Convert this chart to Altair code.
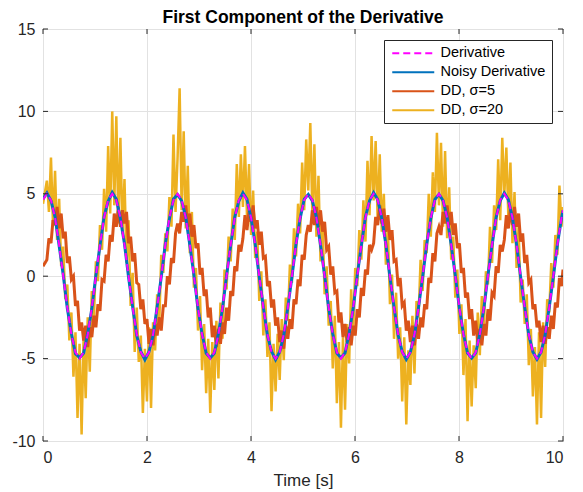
import altair as alt
import pandas as pd

# ---------------- series / style lists ----------------
SERIES = ["Derivative", "Noisy Derivative", "DD, σ=5", "DD, σ=20"]
COLORS = ["#FF00FF", "#0072BD", "#D95319", "#EDB120"]
DASHES = [[7, 4], [1, 0], [1, 0], [1, 0]]

X_TICKS = [0, 2, 4, 6, 8, 10]
Y_TICKS = [-10, -5, 0, 5, 10, 15]

# sampling grid (seconds): t=0, then T_FIRST + i*dt, then t=10
T_FIRST = 0.0748
T_END = 10.0
DT_SMOOTH = 0.07854
DT_NOISY = 0.03927

# ---------------- values ----------------
derivative = [4.65,
    5.00, 4.62, 3.54, 1.91, 0.00, -1.91, -3.54, -4.62, -5.00, -4.62, -3.54, -1.91, 0.00, 1.91, 3.54, 4.62,
    5.00, 4.62, 3.54, 1.91, 0.00, -1.91, -3.54, -4.62, -5.00, -4.62, -3.54, -1.91, 0.00, 1.91, 3.54, 4.62,
    5.00, 4.62, 3.54, 1.91, 0.00, -1.91, -3.54, -4.62, -5.00, -4.62, -3.54, -1.91, 0.00, 1.91, 3.54, 4.62,
    5.00, 4.62, 3.54, 1.91, 0.00, -1.91, -3.54, -4.62, -5.00, -4.62, -3.54, -1.91, 0.00, 1.91, 3.54, 4.62,
    5.00, 4.62, 3.54, 1.91, 0.00, -1.91, -3.54, -4.62, -5.00, -4.62, -3.54, -1.91, 0.00, 1.91, 3.54, 4.62,
    5.00, 4.62, 3.54, 1.91, 0.00, -1.91, -3.54, -4.62, -5.00, -4.62, -3.54, -1.91, 0.00, 1.91, 3.54, 4.62,
    5.00, 4.62, 3.54, 1.91, 0.00, -1.91, -3.54, -4.62, -5.00, -4.62, -3.54, -1.91, 0.00, 1.91, 3.54, 4.62,
    5.00, 4.62, 3.54, 1.91, 0.00, -1.91, -3.54, -4.62, -5.00, -4.62, -3.54, -1.91, 0.00, 1.91, 3.54,
    4.01]

noisy_derivative = [4.70,
    5.05, 4.58, 3.60, 1.85, 0.08, -1.95, -3.48, -4.70, -4.94, -4.66, -3.47, -1.98, 0.05, 1.84, 3.61, 4.55,
    5.08, 4.67, 3.49, 1.96, -0.06, -1.86, -3.60, -4.57, -5.07, -4.58, -3.61, -1.85, -0.07, 1.97, 3.48, 4.68,
    4.95, 4.57, 3.59, 1.88, 0.07, -1.97, -3.50, -4.68, -4.96, -4.67, -3.48, -1.96, 0.06, 1.86, 3.59, 4.56,
    5.06, 4.66, 3.50, 1.95, -0.05, -1.87, -3.59, -4.56, -5.06, -4.59, -3.60, -1.87, -0.05, 1.95, 3.49, 4.67,
    4.96, 4.58, 3.58, 1.87, 0.06, -1.96, -3.49, -4.67, -4.95, -4.66, -3.49, -1.95, 0.07, 1.87, 3.60, 4.57,
    5.07, 4.65, 3.51, 1.94, -0.07, -1.88, -3.58, -4.58, -5.05, -4.60, -3.59, -1.88, -0.06, 1.94, 3.50, 4.66,
    4.97, 4.59, 3.57, 1.89, 0.05, -1.94, -3.51, -4.66, -4.97, -4.65, -3.50, -1.94, 0.06, 1.88, 3.58, 4.58,
    5.05, 4.64, 3.52, 1.93, -0.06, -1.89, -3.57, -4.59, -5.04, -4.61, -3.58, -1.89, -0.05, 1.93, 3.51,
    3.98]

dd_sigma5 = [0.6,
    1.0, 2.3, 2.0, 3.4, 3.1, 4.2, 2.9, 3.8, 2.3, 2.7, 0.8, 1.2, -0.2, 0.0, -1.8, -1.5,
    -3.3, -2.8, -3.9, -3.0, -4.3, -3.1, -3.7, -2.4, -3.1, -1.7, -2.1, -0.2, -0.3, 1.3, 0.9, 2.5,
    2.1, 3.8, 3.0, 4.2, 3.0, 4.0, 3.2, 3.9, 2.0, 2.4, 0.9, 1.4, -0.4, -0.5, -2.0, -1.4,
    -2.9, -2.6, -4.1, -3.2, -4.2, -2.9, -3.6, -2.5, -3.3, -1.8, -1.8, 0.0, -0.5, 1.1, 0.8, 2.6,
    3.2, 2.6, 3.9, 3.3, 4.3, 3.0, 3.8, 2.4, 3.1, 1.7, 2.0, 0.1, 0.5, -1.2, -0.8, -2.5,
    -1.9, -3.7, -3.0, -4.3, -3.2, -4.1, -2.8, -3.5, -1.9, -2.7, -0.9, -1.2, 0.6, 0.3, 1.9, 1.5,
    2.3, 3.7, 2.8, 4.0, 3.3, 4.3, 2.9, 3.4, 1.9, 2.7, 1.1, 1.2, -0.6, -0.3, -1.9, -1.4,
    -3.0, -2.5, -4.0, -3.3, -4.4, -3.0, -3.8, -2.6, -3.2, -1.4, -1.7, -0.2, -0.6, 1.3, 1.0, 2.5,
    3.1, 2.7, 4.0, 3.1, 4.2, 3.0, 4.0, 2.7, 3.3, 1.6, 1.8, 0.1, 0.6, -1.0, -0.9, -2.8,
    -2.2, -3.7, -2.9, -4.0, -3.1, -4.2, -3.0, -3.6, -2.0, -2.5, -0.7, -1.2, 0.4, 0.1, 1.9, 1.6,
    2.0, 3.6, 3.1, 4.3, 3.2, 4.1, 2.7, 3.7, 2.2, 2.8, 0.9, 1.0, -0.6, -0.1, -1.8, -1.6,
    -3.3, -2.7, -4.0, -3.0, -4.2, -2.9, -3.8, -2.5, -3.1, -1.7, -2.0, -0.1, -0.4, 1.4, 0.9, 2.6,
    3.0, 2.5, 3.9, 3.2, 4.3, 3.1, 3.9, 2.5, 3.2, 1.7, 2.0, 0.2, 0.5, -1.3, -1.0, -2.6,
    -2.0, -3.6, -2.7, -4.0, -3.2, -4.2, -2.9, -3.6, -2.0, -2.7, -1.0, -1.2, 0.6, 0.2, 1.9, 1.5,
    2.2, 3.7, 2.9, 4.1, 3.1, 4.2, 3.0, 3.8, 2.1, 2.6, 0.8, 1.3, -0.4, -0.2, -2.0, -1.7,
    -3.1, -2.7, -4.0, -3.0, -4.1, -3.1, -3.8, -2.4, -3.2, -1.6, -1.9, -0.1, -0.6,
    0.4]

dd_sigma20 = [4.4,
    5.8, 3.9, 7.2, 3.1, 6.4, 2.2, 4.7, 0.6, 1.8, -1.4, -0.5, -3.9, -2.2, -6.1, -3.4, -8.6,
    -4.1, -9.6, -3.6, -7.4, -2.5, -5.8, -0.9, -2.6, 0.9, -0.3, 3.1, 1.6, 5.3, 2.7, 7.9, 3.8,
    10.0, 4.3, 9.7, 3.2, 8.4, 2.6, 5.9, 0.8, 3.4, -1.8, 0.2, -4.6, -1.9, -5.2, -3.6, -8.3,
    -4.4, -7.6, -3.1, -8.0, -2.8, -4.5, -1.1, -3.0, 1.3, 0.2, 2.6, 1.5, 4.8, 3.0, 8.6, 3.9,
    7.2, 11.4, 4.0, 8.8, 2.9, 6.7, 1.4, 3.9, -0.7, 0.5, -3.3, -1.2, -5.7, -2.9, -7.1, -3.8,
    -8.3, -4.0, -6.9, -2.7, -6.2, -1.6, -3.8, 0.4, -0.8, 2.4, 0.9, 4.1, 2.2, 6.8, 3.6, 7.4,
    4.2, 7.9, 3.6, 6.8, 2.5, 5.2, 1.1, 2.7, -1.5, 0.3, -3.6, -1.4, -4.9, -2.8, -8.2, -4.1,
    -7.0, -3.5, -6.3, -2.6, -5.1, -1.3, -2.7, 0.7, -0.4, 2.9, 1.2, 4.4, 2.6, 6.9, 4.0, 8.3,
    5.2, 9.3, 3.8, 8.0, 2.4, 6.1, 0.9, 3.3, -1.1, 0.6, -3.0, -1.5, -5.6, -2.4, -7.7, -4.0,
    -9.2, -3.7, -8.1, -2.9, -5.3, -0.8, -3.4, 0.5, -0.6, 2.8, 1.0, 4.6, 2.1, 7.0, 3.7, 8.5,
    4.6, 8.2, 3.3, 7.4, 2.7, 5.0, 0.7, 2.9, -1.7, 0.1, -3.8, -1.0, -5.0, -3.1, -7.6, -3.7,
    -9.0, -4.5, -6.6, -2.4, -5.9, -1.5, -2.5, 1.0, -0.9, 2.2, 1.4, 5.0, 2.4, 6.3, 3.9, 8.7,
    4.3, 8.1, 3.0, 7.6, 2.3, 5.4, 1.0, 2.4, -1.3, 0.4, -3.5, -1.7, -6.0, -2.6, -8.8, -3.9,
    -7.9, -4.2, -6.8, -2.2, -4.8, -1.2, -3.1, 0.3, -0.5, 3.0, 0.8, 4.3, 2.8, 7.1, 3.4, 8.4,
    4.9, 7.8, 3.5, 6.9, 2.0, 5.1, 0.5, 3.0, -1.6, -0.2, -2.9, -1.1, -5.4, -3.2, -7.3, -4.3,
    -9.0, -3.4, -8.6, -2.8, -5.5, -1.4, -2.2, 0.8, -0.7, 2.5, 1.3, 5.5, 3.0,
    4.2]


def sample_times(n, dt):
    return [0.0] + [T_FIRST + i * dt for i in range(n - 2)] + [T_END]


rows = []
for name, vals, dt in [
    (SERIES[0], derivative, DT_SMOOTH),
    (SERIES[1], noisy_derivative, DT_SMOOTH),
    (SERIES[2], dd_sigma5, DT_NOISY),
    (SERIES[3], dd_sigma20, DT_NOISY),
]:
    for t, v in zip(sample_times(len(vals), dt), vals):
        rows.append({"t": t, "v": v, "series": name})
df = pd.DataFrame(rows)

FONT = "Liberation Sans"
AX = "#262626"

x_axis = alt.Axis(values=X_TICKS, title="Time [s]", grid=True, gridColor="#E2E2E2",
                  domain=False, ticks=False, labelFont=FONT, labelFontSize=16,
                  labelColor=AX, labelPadding=8, titleFont=FONT, titleFontSize=17,
                  titleFontWeight="normal", titleColor=AX, titlePadding=7)
y_axis = alt.Axis(values=Y_TICKS, title=None, grid=True, gridColor="#E2E2E2",
                  domain=False, ticks=False, labelFont=FONT, labelFontSize=16,
                  labelColor=AX, labelPadding=8,
                  labelExpr="datum.value < 0 ? '-' + abs(datum.value) : '' + datum.value")

xs = alt.Scale(domain=[0, 10], nice=False, zero=False)
ys = alt.Scale(domain=[-10, 15], nice=False, zero=False)

legend = alt.Legend(title=None, orient="none", legendX=341, legendY=11,
                    fillColor="white", strokeColor=AX, padding=6,
                    symbolType="M-1,0H7.4", symbolSize=100, symbolStrokeWidth=2,
                    labelFont=FONT, labelFontSize=14.5, labelColor="black",
                    rowPadding=4, labelOffset=36)

color = alt.Color("series:N", scale=alt.Scale(domain=SERIES, range=COLORS), legend=legend)
dash = alt.StrokeDash("series:N", scale=alt.Scale(domain=SERIES, range=DASHES), legend=legend)


def line_layer(name, width):
    return (alt.Chart(df)
            .transform_filter(alt.datum.series == name)
            .mark_line(strokeWidth=width, clip=True)
            .encode(x=alt.X("t:Q", scale=xs, axis=x_axis),
                    y=alt.Y("v:Q", scale=ys, axis=y_axis),
                    color=color, strokeDash=dash))


xt = pd.DataFrame({"v": X_TICKS})
yt = pd.DataFrame({"v": Y_TICKS})
tick_style = dict(color=AX, strokeWidth=1)
ticks = [
    alt.Chart(xt).mark_rule(**tick_style).encode(x=alt.X("v:Q", scale=xs), y=alt.value(412), y2=alt.value(407)),
    alt.Chart(xt).mark_rule(**tick_style).encode(x=alt.X("v:Q", scale=xs), y=alt.value(0), y2=alt.value(5)),
    alt.Chart(yt).mark_rule(**tick_style).encode(y=alt.Y("v:Q", scale=ys), x=alt.value(0), x2=alt.value(5)),
    alt.Chart(yt).mark_rule(**tick_style).encode(y=alt.Y("v:Q", scale=ys), x=alt.value(520), x2=alt.value(515)),
]

chart = alt.layer(
    line_layer(SERIES[3], 2.5),
    line_layer(SERIES[2], 3),
    line_layer(SERIES[1], 3),
    line_layer(SERIES[0], 2),
    *ticks,
).properties(
    width=520, height=412,
    autosize=alt.AutoSizeParams(type="none"),
    padding={"left": 35, "top": 21, "right": 12, "bottom": 50},
    title=alt.TitleParams("First Component of the Derivative", font=FONT, fontSize=17.5,
                          fontWeight="bold", color="black", anchor="middle",
                          frame="group", offset=7, dy=12),
).configure_view(stroke=AX, strokeWidth=1)

chart.save("out.html", embed_options={"renderer": "svg", "actions": False})
